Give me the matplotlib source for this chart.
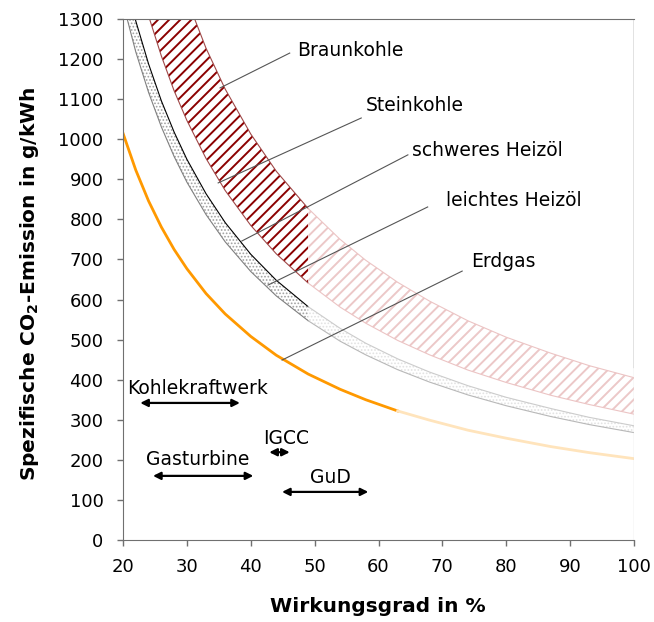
import numpy as np
import matplotlib
matplotlib.use('Agg')
import matplotlib.pyplot as plt

# efficiency grid (%) and emissions (g/kWh)
eta = [20, 22, 24, 26, 28, 30, 33, 36, 40, 44, 49, 54, 58, 63, 68, 74, 80, 87, 93, 100]
braunkohle = [2025, 1841, 1688, 1558, 1446, 1350, 1227, 1125, 1013, 920, 827, 750, 698, 643, 596, 547, 506, 466, 435, 405]
steinkohle = [1570, 1427, 1308, 1208, 1121, 1047, 952, 872, 785, 714, 641, 581, 541, 498, 462, 424, 393, 361, 338, 314]
schweres_heizoel = [1425, 1295, 1188, 1096, 1018, 950, 864, 792, 713, 648, 582, 528, 491, 452, 419, 385, 356, 328, 306, 285]
leichtes_heizoel = [1340, 1218, 1117, 1031, 957, 893, 812, 744, 670, 609, 547, 496, 462, 425, 394, 362, 335, 308, 288, 268]
erdgas = [1015, 923, 846, 781, 725, 677, 615, 564, 508, 461, 414, 376, 350, 322, 299, 274, 254, 233, 218, 203]

eta_kohle_oel_max = 49   # end of the realistic (dark) range
eta_gas_max = 63

# curve labels: text, text position, leader line (start, end)
labels = ['Braunkohle', 'Steinkohle', 'schweres Heizöl', 'leichtes Heizöl', 'Erdgas']
label_xy = [(47.2, 1222), (58.0, 1085), (65.2, 971), (70.6, 848), (74.5, 694)]
leader_from = [(46.1, 1215), (57.3, 1053), (64.6, 961), (67.7, 831), (73.1, 671)]
leader_to = [(35.2, 1128), (34.9, 891), (38.6, 746), (42.7, 636), (44.9, 449)]

# technology efficiency ranges
techs = ['Kohlekraftwerk', 'Gasturbine', 'IGCC', 'GuD']
tech_range = [(22.7, 38.3), (24.7, 40.4), (42.9, 46.1), (44.9, 58.4)]
tech_arrow_y = [342, 160, 219, 120]
tech_text_xy = [(31.7, 377), (31.7, 200), (45.5, 254), (52.4, 155)]

plt.rcParams['hatch.linewidth'] = 1.4

fig = plt.figure(figsize=(6.54, 6.22), dpi=100)
ax = fig.add_axes([123/654, 82/622, 511/654, 521/622])

x = np.array(eta)
dark = x <= eta_kohle_oel_max
pale = x >= eta_kohle_oel_max

# coal band
ax.fill_between(x, steinkohle, braunkohle, where=dark, facecolor='white',
                edgecolor='#8b0000', hatch='///', linewidth=0)
ax.fill_between(x, steinkohle, braunkohle, where=pale, facecolor='white',
                edgecolor='#ecc8c8', hatch='///', linewidth=0)
for y in (braunkohle, steinkohle):
    y = np.array(y)
    ax.plot(x[dark], y[dark], color='#a04848', lw=0.8)
    ax.plot(x[pale], y[pale], color='#ecc4c4', lw=0.8)

# oil band
plt.rcParams['hatch.linewidth'] = 0.8
ax.fill_between(x, leichtes_heizoel, schweres_heizoel, where=dark, facecolor='white',
                edgecolor='#a0a0a0', hatch='.....', linewidth=0)
ax.fill_between(x, leichtes_heizoel, schweres_heizoel, where=pale, facecolor='white',
                edgecolor='#e2e2e2', hatch='.....', linewidth=0)
so, lo = np.array(schweres_heizoel), np.array(leichtes_heizoel)
ax.plot(x[dark], so[dark], color='black', lw=0.8)
ax.plot(x[dark], lo[dark], color='#808080', lw=0.8)
ax.plot(x[pale], so[pale], color='#cccccc', lw=0.8)
ax.plot(x[pale], lo[pale], color='#b8b8b8', lw=0.8)

# natural gas
eg = np.array(erdgas)
ax.plot(x[x <= eta_gas_max], eg[x <= eta_gas_max], color='#ff9900', lw=2)
ax.plot(x[x >= eta_gas_max], eg[x >= eta_gas_max], color='#ffe4bc', lw=2)

# labels with leader lines
for txt, (tx, ty), p0, p1 in zip(labels, label_xy, leader_from, leader_to):
    ax.plot([p0[0], p1[0]], [p0[1], p1[1]], color='#555555', lw=0.8)
    ax.text(tx, ty, txt, fontsize=13.5, ha='left', va='center')

# efficiency ranges
for txt, (x0, x1), ya, (tx, ty) in zip(techs, tech_range, tech_arrow_y, tech_text_xy):
    ax.annotate('', xy=(x1, ya), xytext=(x0, ya),
                arrowprops=dict(arrowstyle='<|-|>', color='black', lw=1.6,
                                mutation_scale=11, shrinkA=0, shrinkB=0))
    ax.text(tx, ty, txt, fontsize=13.5, ha='center', va='center')

ax.set_xlim(20, 100)
ax.set_ylim(0, 1300)
ax.set_xticks(range(20, 101, 10))
ax.set_yticks(range(0, 1301, 100))
ax.tick_params(direction='out', length=4, width=1, color='#707070', labelsize=13)
ax.tick_params(axis='x', pad=9)
ax.tick_params(axis='y', pad=10)
for s in ('left', 'bottom', 'top'):
    ax.spines[s].set_color('#707070')
ax.spines['right'].set_visible(False)
ax.axvline(100, ymin=431/1300, color='#707070', lw=1)
ax.axvline(100, ymax=431/1300, color='#e0e0e0', lw=1)

fig.text(378/654, 1 - 607/622, 'Wirkungsgrad in %', fontsize=14.5, fontweight='bold',
         ha='center', va='center')
fig.text(30/654, 1 - 284/622, r'Spezifische CO$_\mathbf{2}$-Emission in g/kWh', fontsize=14.5,
         fontweight='bold', rotation=90, ha='center', va='center')

fig.savefig('out.png', dpi=100)
